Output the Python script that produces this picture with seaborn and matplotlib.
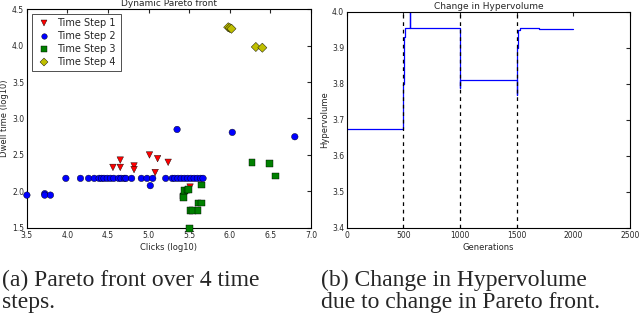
import matplotlib
matplotlib.use("Agg")
import matplotlib.pyplot as plt
import numpy as np
import pandas as pd
import seaborn as sns

# Time step 1 (red triangles)
clicks_1 = [4.56, 4.65, 4.65, 4.82, 4.82, 5.01, 5.08, 5.11, 5.24, 5.51]
dwell_1 = [2.33, 2.43, 2.33, 2.35, 2.30, 2.50, 2.26, 2.45, 2.40, 2.06]

# Time step 2 (blue circles)
clicks_2 = [3.50, 3.72, 3.72, 3.79, 3.98, 4.16, 4.26, 4.33, 4.39, 4.42, 4.45, 4.49,
            4.53, 4.57, 4.63, 4.66, 4.70, 4.72, 4.79, 4.91, 4.98, 5.02, 5.05, 5.21,
            5.29, 5.32, 5.36, 5.40, 5.44, 5.48, 5.52, 5.56, 5.60, 5.64, 5.67,
            5.35, 6.03, 6.80]
dwell_2 = [1.95, 1.97, 1.95, 1.95, 2.18, 2.18, 2.18, 2.18, 2.18, 2.18, 2.18, 2.18,
           2.18, 2.18, 2.18, 2.18, 2.18, 2.18, 2.18, 2.18, 2.18, 2.08, 2.18, 2.18,
           2.18, 2.18, 2.18, 2.18, 2.18, 2.18, 2.18, 2.18, 2.18, 2.18, 2.18,
           2.85, 2.81, 2.75]

# Time step 3 (green squares)
clicks_3 = [5.42, 5.43, 5.44, 5.47, 5.49, 5.51, 5.54, 5.61, 5.61, 5.65, 5.65, 5.50,
            6.27, 6.49, 6.56]
dwell_3 = [1.94, 1.92, 2.01, 2.02, 2.03, 1.74, 1.74, 1.74, 1.84, 1.84, 2.09, 1.49,
           2.40, 2.38, 2.21]

# Time step 4 (yellow diamonds)
clicks_4 = [5.98, 6.00, 6.02, 6.32, 6.40]
dwell_4 = [4.25, 4.24, 4.23, 3.98, 3.97]

# Hypervolume per generation (step changes)
generations = [0, 500, 503, 507, 512, 555, 558, 1000, 1004, 1500, 1504, 1512, 1530, 1700, 2000]
hypervolume = [3.674, 3.80, 3.84, 3.93, 3.955, 4.02, 3.955, 3.79, 3.812, 3.77, 3.90, 3.95, 3.955, 3.953, 3.953]

change_points = [500, 1000, 1500]

steps = ["Time Step 1", "Time Step 2", "Time Step 3", "Time Step 4"]
front = pd.concat([
    pd.DataFrame({"clicks": c, "dwell": d, "step": s})
    for c, d, s in zip([clicks_1, clicks_2, clicks_3, clicks_4],
                       [dwell_1, dwell_2, dwell_3, dwell_4], steps)
], ignore_index=True)
hv = pd.DataFrame({"gen": generations, "hv": hypervolume})

sns.set_style("white")
plt.rcParams.update({
    "xtick.direction": "in", "ytick.direction": "in",
    "xtick.top": True, "ytick.right": True,
    "xtick.major.size": 3, "ytick.major.size": 3,
    "xtick.labelsize": 5.5, "ytick.labelsize": 5.5,
    "axes.edgecolor": "black", "axes.linewidth": 0.8,
})
plt.rcParams["font.family"] = ["DejaVu Sans"]

fig = plt.figure(figsize=(6.4, 3.22), dpi=100)
ax1 = fig.add_axes([0.042, 0.292, 0.444, 0.68])
ax2 = fig.add_axes([0.542, 0.292, 0.442, 0.671])

palette = {"Time Step 1": "red", "Time Step 2": "blue",
           "Time Step 3": "green", "Time Step 4": (0.75, 0.75, 0.0)}
markers = {"Time Step 1": "v", "Time Step 2": "o",
           "Time Step 3": "s", "Time Step 4": "D"}
sns.scatterplot(data=front, x="clicks", y="dwell", hue="step", style="step",
                palette=palette, markers=markers, s=22, edgecolor="black",
                linewidth=0.3, ax=ax1, clip_on=False, zorder=3)
ax1.set_xlim(3.5, 7.0)
ax1.set_ylim(1.5, 4.5)
ax1.set_xticks(np.arange(3.5, 7.01, 0.5))
ax1.set_yticks(np.arange(1.5, 4.51, 0.5))
ax1.set_title("Dynamic Pareto front", fontsize=6.5, pad=2)
ax1.set_xlabel("Clicks (log10)", fontsize=6, labelpad=2)
ax1.set_ylabel("Dwell time (log10)", fontsize=6, labelpad=2)
ax1.tick_params(pad=2)
leg = ax1.legend(loc="upper left", fontsize=7, frameon=True, fancybox=False,
                 handletextpad=0.6, handlelength=1.6, borderpad=0.45,
                 labelspacing=0.3, bbox_to_anchor=(0.0, 1.0), markerscale=0.85)
leg.get_frame().set_edgecolor("black")
leg.get_frame().set_linewidth(0.6)

sns.lineplot(data=hv, x="gen", y="hv", drawstyle="steps-post", color="blue",
             linewidth=0.9, ax=ax2)
for cp in change_points:
    ax2.axvline(cp, color="black", linestyle="--", linewidth=0.9, dashes=(3, 3))
ax2.set_xlim(0, 2500)
ax2.set_ylim(3.4, 4.0)
ax2.set_xticks(np.arange(0, 2501, 500))
ax2.set_yticks(np.arange(3.4, 4.01, 0.1))
ax2.set_title("Change in Hypervolume", fontsize=6.5, pad=2)
ax2.set_xlabel("Generations", fontsize=6, labelpad=2)
ax2.set_ylabel("Hypervolume", fontsize=6, labelpad=2)
ax2.tick_params(pad=2)

fig.text(0.003, 0.163, "(a) Pareto front over 4 time\nsteps.", fontsize=17,
         family=["Liberation Serif"], va="top", linespacing=1.08)
fig.text(0.501, 0.163, "(b) Change in Hypervolume\ndue to change in Pareto front.",
         fontsize=17, family=["Liberation Serif"], va="top", linespacing=1.08)

fig.savefig("out.png", dpi=100)
